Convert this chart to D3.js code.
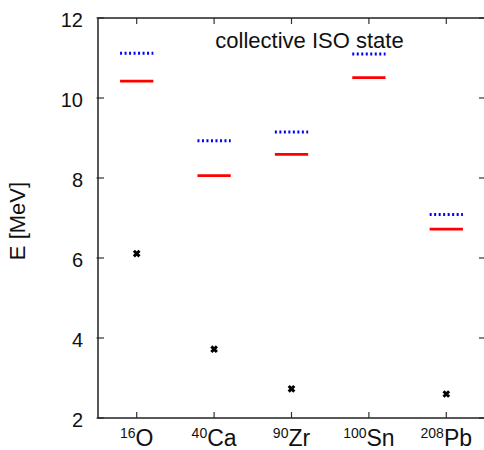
<!DOCTYPE html>
<html>
<head>
<meta charset="utf-8">
<script src="https://cdn.jsdelivr.net/npm/d3@7/dist/d3.min.js"></script>
<style>
  html, body { margin: 0; padding: 0; background: #fff; }
  svg { display: block; font-family: "Liberation Sans", Arial, sans-serif; }
</style>
</head>
<body>
<svg id="chart" width="484" height="450"></svg>
<script>
// Nuclei (mass number as superscript, element symbol)
const massNumbers = ["16", "40", "90", "100", "208"];
const elements = ["O", "Ca", "Zr", "Sn", "Pb"];
// Collective isoscalar monopole energies [MeV]
const blueLevels = [11.12, 8.93, 9.15, 11.10, 7.09];
const redLevels = [10.42, 8.06, 8.59, 10.51, 6.72];
// Measured low-lying energies [MeV] (none for 100Sn)
const pointValues = [6.11, 3.72, 2.73, null, 2.60];
const yTicks = [2, 4, 6, 8, 10, 12];

(function draw() {
  const svg = d3.select("#chart");
  const plotLeft = 98, plotRight = 485, plotTop = 18, plotBottom = 418;

  const x = d3.scaleLinear().domain([0.5, 5.5]).range([plotLeft, plotRight]);
  const y = d3.scaleLinear().domain([2, 12]).range([plotBottom, plotTop]);
  const halfW = 0.215;
  const idx = elements.map((_, i) => i + 1);

  const frameColor = "#222";

  // Ticks on all four sides, pointing inward
  const tickLen = 6;
  const ticks = svg.append("g").attr("stroke", "#333").attr("stroke-width", 1.2);
  yTicks.forEach(t => {
    ticks.append("line").attr("x1", plotLeft - 1.5).attr("x2", plotLeft + tickLen)
      .attr("y1", y(t)).attr("y2", y(t));
    ticks.append("line").attr("x1", plotRight).attr("x2", plotRight - tickLen)
      .attr("y1", y(t)).attr("y2", y(t));
  });
  idx.forEach(v => {
    ticks.append("line").attr("x1", x(v)).attr("x2", x(v))
      .attr("y1", plotBottom).attr("y2", plotBottom - tickLen);
    ticks.append("line").attr("x1", x(v)).attr("x2", x(v))
      .attr("y1", plotTop).attr("y2", plotTop + tickLen);
  });

  // Frame
  svg.append("rect")
    .attr("x", plotLeft).attr("y", plotTop)
    .attr("width", plotRight - plotLeft).attr("height", plotBottom - plotTop)
    .attr("fill", "none").attr("stroke", frameColor).attr("stroke-width", 1.5);

  // Y tick labels
  svg.append("g").selectAll("text").data(yTicks).join("text")
    .attr("x", 83).attr("y", d => y(d) + 1.5)
    .attr("text-anchor", "end").attr("dominant-baseline", "central")
    .attr("font-size", 20).attr("fill", "#111")
    .text(d => d);

  // X labels: superscript mass number + element symbol
  const xl = svg.append("g").selectAll("text").data(idx).join("text")
    .attr("x", d => x(d)).attr("y", 446)
    .attr("text-anchor", "middle").attr("fill", "#111");
  xl.append("tspan").attr("font-size", 14).attr("dy", -8)
    .text(d => massNumbers[d - 1]);
  xl.append("tspan").attr("font-size", 23).attr("dy", 8)
    .text(d => elements[d - 1]);

  // Y axis label
  svg.append("text")
    .attr("transform", "translate(25,221) rotate(-90)")
    .attr("text-anchor", "middle").attr("font-size", 22).attr("fill", "#111")
    .text("E [MeV]");

  // Title inside plot
  svg.append("text")
    .attr("x", 309.5).attr("y", 47.5)
    .attr("text-anchor", "middle").attr("font-size", 22).attr("fill", "#111")
    .text("collective ISO state");

  // Blue dotted levels
  svg.append("g").selectAll("line").data(idx).join("line")
    .attr("x1", d => x(d - halfW)).attr("x2", d => x(d + halfW))
    .attr("y1", d => y(blueLevels[d - 1])).attr("y2", d => y(blueLevels[d - 1]))
    .attr("stroke", "#0000ff").attr("stroke-width", 3)
    .attr("stroke-dasharray", "2,2.5");

  // Red solid levels
  svg.append("g").selectAll("line").data(idx).join("line")
    .attr("x1", d => x(d - halfW)).attr("x2", d => x(d + halfW))
    .attr("y1", d => y(redLevels[d - 1])).attr("y2", d => y(redLevels[d - 1]))
    .attr("stroke", "#ff0000").attr("stroke-width", 2.7);

  // Cross markers
  const pts = idx.filter(d => pointValues[d - 1] !== null);
  const s = 2.8;
  svg.append("g").selectAll("path").data(pts).join("path")
    .attr("d", d => {
      const cx = x(d), cy = y(pointValues[d - 1]);
      return `M${cx - s},${cy - s}L${cx + s},${cy + s}M${cx - s},${cy + s}L${cx + s},${cy - s}`;
    })
    .attr("stroke", "#000").attr("stroke-width", 3).attr("fill", "none");
})();
</script>
</body>
</html>
